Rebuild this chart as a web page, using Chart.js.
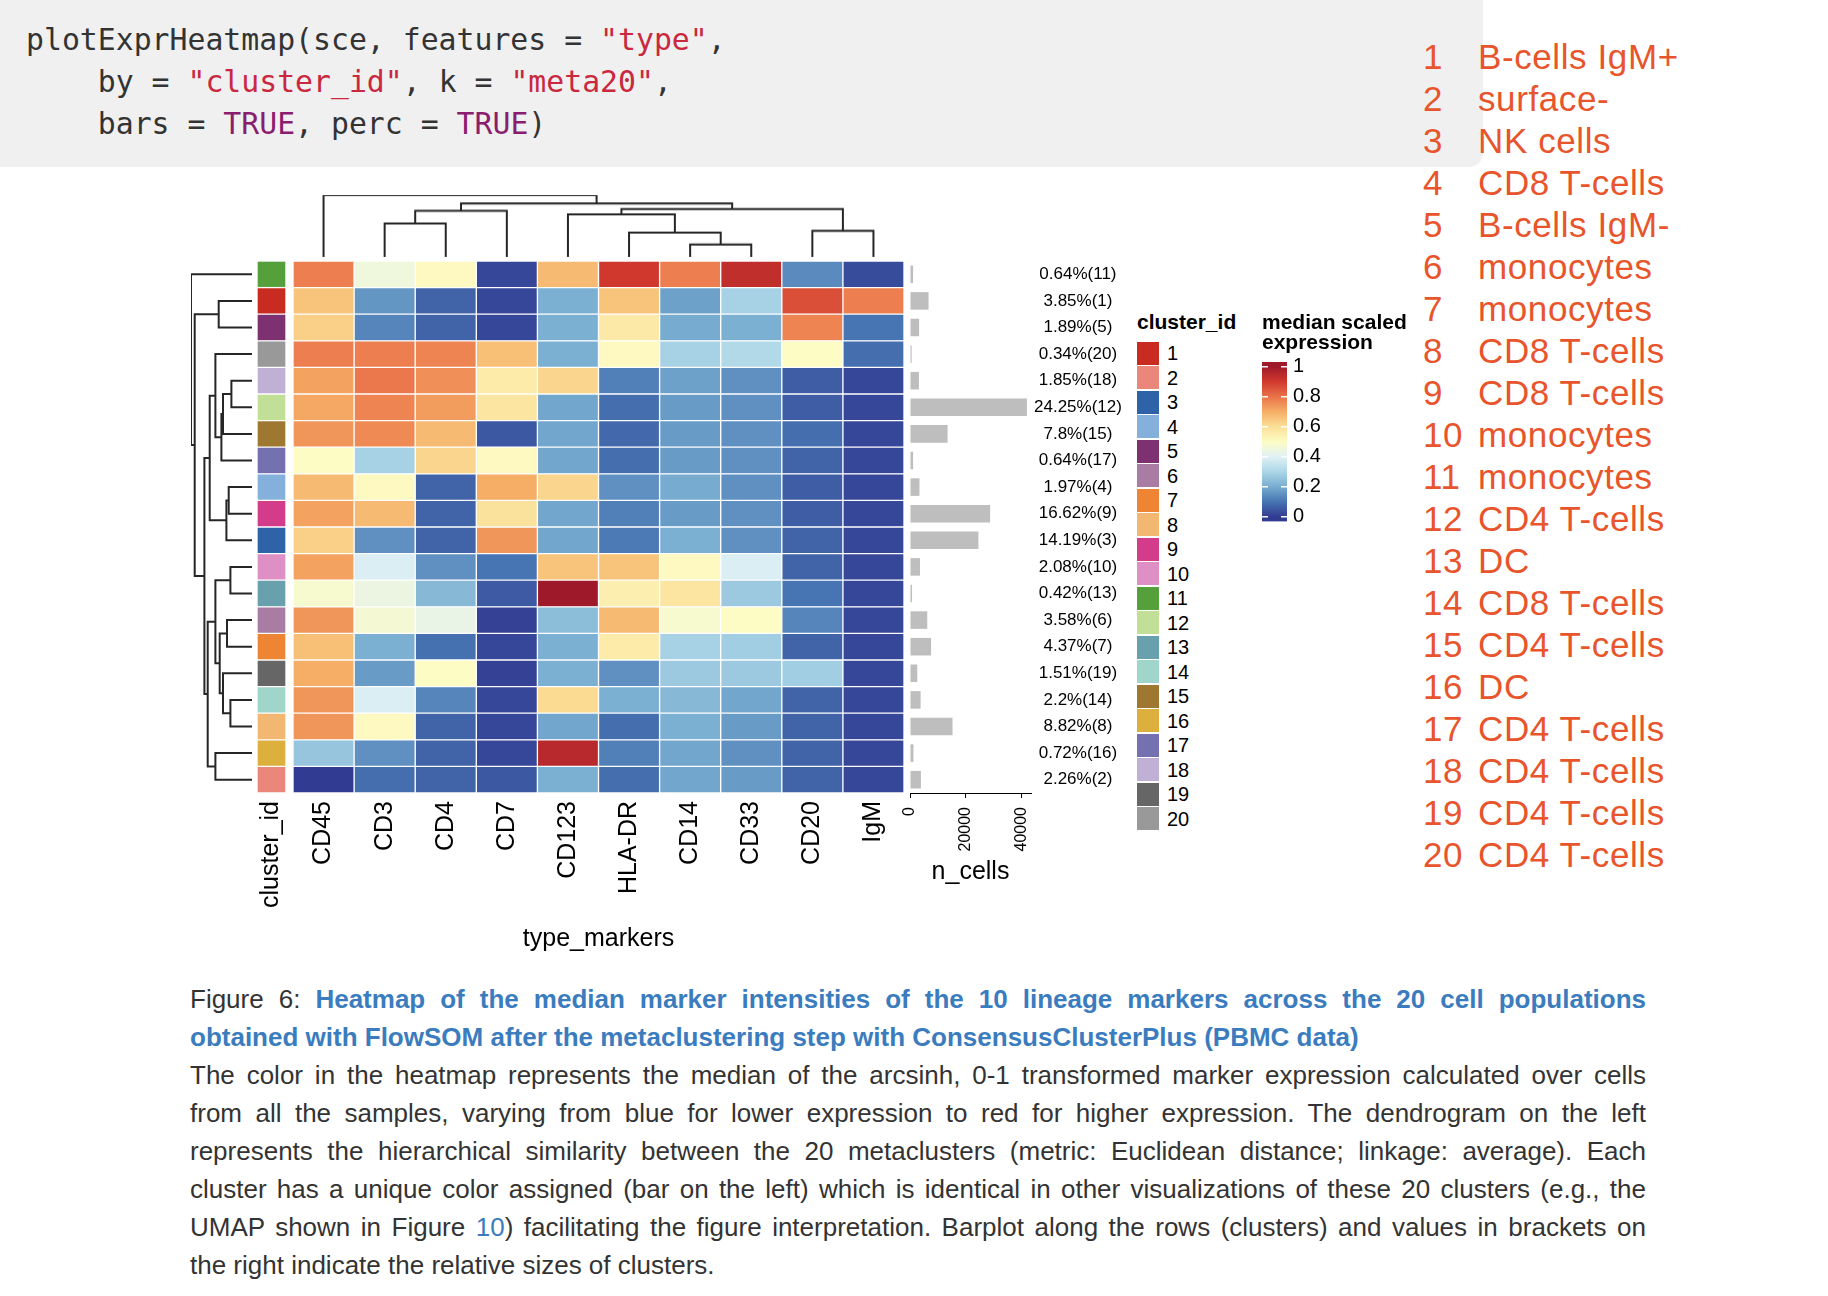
<!DOCTYPE html>
<html>
<head>
<meta charset="utf-8">
<script src="https://cdn.jsdelivr.net/npm/chart.js@4.4.1/dist/chart.umd.min.js"></script>
<style>
  html, body { margin: 0; padding: 0; background: #fff; }
  #page { position: relative; width: 1828px; height: 1296px; overflow: hidden; font-family: 'Liberation Sans', Arial, sans-serif; color: #000; }
  .abs { position: absolute; }
  canvas { position: absolute; }
  #code { left: 0; top: 0; width: 1483px; height: 167px; background: #f0f0f0; border-bottom-right-radius: 14px; }
  #code pre { position: absolute; left: 26px; top: 19px; margin: 0; font: 29.8px/42px 'DejaVu Sans Mono', monospace; color: #333; }
  #code .s { color: #c9283e; }
  #code .k { color: #8a1d6d; }
  .types { font-size: 35px; line-height: 42px; color: #e8552c; letter-spacing: 0.6px; white-space: nowrap; }
  .leg-title { font-weight: bold; font-size: 21px; line-height: 20px; white-space: nowrap; }
  .leg-sw { width: 22px; height: 23px; }
  .leg-lab { font-size: 20px; line-height: 24px; }
  #caption { left: 190px; top: 980px; width: 1456px; font-size: 26px; line-height: 38px; color: #333; }
  #caption div { white-space: nowrap; height: 38px; }
  #caption .j { text-align: justify; text-align-last: justify; }
  #caption .t { color: #3b7cbf; font-weight: bold; }
  #caption .lnk { color: #3b7cbf; }
</style>
</head>
<body>
<div id="page">
  <div id="code" class="abs"><pre>plotExprHeatmap(sce, features = <span class="s">"type"</span>,
    by = <span class="s">"cluster_id"</span>, k = <span class="s">"meta20"</span>,
    bars = <span class="k">TRUE</span>, perc = <span class="k">TRUE</span>)</pre></div>

  <div id="caption" class="abs">
    <div class="j">Figure 6: <span class="t">Heatmap of the median marker intensities of the 10 lineage markers across the 20 cell populations</span></div>
    <div><span class="t">obtained with FlowSOM after the metaclustering step with ConsensusClusterPlus (PBMC data)</span></div>
    <div class="j">The color in the heatmap represents the median of the arcsinh, 0-1 transformed marker expression calculated over cells</div>
    <div class="j">from all the samples, varying from blue for lower expression to red for higher expression. The dendrogram on the left</div>
    <div class="j">represents the hierarchical similarity between the 20 metaclusters (metric: Euclidean distance; linkage: average). Each</div>
    <div class="j">cluster has a unique color assigned (bar on the left) which is identical in other visualizations of these 20 clusters (e.g., the</div>
    <div class="j">UMAP shown in Figure <span class="lnk">10</span>) facilitating the figure interpretation. Barplot along the rows (clusters) and values in brackets on</div>
    <div>the right indicate the relative sizes of clusters.</div>
  </div>
</div>

<script>
// markers (columns) and clusters (rows, top to bottom as in the heatmap)
const markers = ['CD45', 'CD3', 'CD4', 'CD7', 'CD123', 'HLA-DR', 'CD14', 'CD33', 'CD20', 'IgM'];
const rowClusters = [11, 1, 5, 20, 18, 12, 15, 17, 4, 9, 3, 10, 13, 6, 7, 19, 14, 8, 16, 2];

// cluster colours, cluster id 1..20
const clusterColors = ['#c92b20', '#eb877a', '#2f63a8', '#86b0dc', '#7e3170', '#a97ca3', '#ee8534', '#f2b770', '#d33c8b', '#de8fc4',
                       '#56a03c', '#c2df98', '#68a0ae', '#a0d5c9', '#9e7730', '#ddb03e', '#7571b0', '#c0b0d5', '#666666', '#999999'];

// median scaled expression, one row per heatmap row (same order as rowClusters)
const medianExpr = [
    [0.78, 0.45, 0.51, 0.02, 0.675, 0.90, 0.78, 0.93, 0.14, 0.03],
    [0.655, 0.16, 0.07, 0.02, 0.21, 0.655, 0.18, 0.29, 0.86, 0.78],
    [0.63, 0.13, 0.07, 0.02, 0.21, 0.565, 0.20, 0.21, 0.77, 0.10],
    [0.78, 0.78, 0.77, 0.665, 0.21, 0.51, 0.29, 0.31, 0.50, 0.09],
    [0.72, 0.79, 0.75, 0.56, 0.62, 0.12, 0.18, 0.15, 0.06, 0.02],
    [0.71, 0.77, 0.73, 0.58, 0.19, 0.09, 0.17, 0.15, 0.06, 0.02],
    [0.74, 0.76, 0.675, 0.05, 0.19, 0.08, 0.17, 0.15, 0.09, 0.02],
    [0.50, 0.29, 0.62, 0.51, 0.19, 0.09, 0.17, 0.15, 0.07, 0.02],
    [0.675, 0.51, 0.07, 0.70, 0.62, 0.15, 0.20, 0.15, 0.06, 0.02],
    [0.72, 0.675, 0.07, 0.59, 0.19, 0.12, 0.17, 0.15, 0.06, 0.02],
    [0.63, 0.15, 0.07, 0.74, 0.19, 0.11, 0.21, 0.15, 0.07, 0.02],
    [0.72, 0.39, 0.15, 0.10, 0.655, 0.655, 0.51, 0.39, 0.07, 0.02],
    [0.48, 0.44, 0.23, 0.055, 1.00, 0.55, 0.58, 0.27, 0.10, 0.02],
    [0.74, 0.47, 0.43, 0.01, 0.24, 0.675, 0.48, 0.50, 0.13, 0.02],
    [0.665, 0.21, 0.095, 0.02, 0.21, 0.56, 0.29, 0.28, 0.07, 0.02],
    [0.70, 0.17, 0.50, 0.01, 0.21, 0.15, 0.27, 0.27, 0.28, 0.02],
    [0.74, 0.39, 0.13, 0.02, 0.61, 0.21, 0.23, 0.19, 0.07, 0.02],
    [0.74, 0.51, 0.07, 0.02, 0.19, 0.09, 0.21, 0.17, 0.07, 0.02],
    [0.26, 0.15, 0.07, 0.02, 0.95, 0.12, 0.19, 0.15, 0.07, 0.02],
    [0.00, 0.09, 0.07, 0.05, 0.21, 0.09, 0.19, 0.17, 0.07, 0.02]
];

// cluster sizes, same row order
const nCells = [1100, 6650, 3270, 590, 3200, 41900, 13480, 1110, 3400, 28720,
                24520, 3590, 730, 6190, 7550, 2610, 3800, 15240, 1240, 3910];
const pctCells = [0.64, 3.85, 1.89, 0.34, 1.85, 24.25, 7.8, 0.64, 1.97, 16.62,
                  14.19, 2.08, 0.42, 3.58, 4.37, 1.51, 2.2, 8.82, 0.72, 2.26];
const nCellsTicks = [0, 20000, 40000];

// annotation on the right, cluster id 1..20
const cellTypes = ['B-cells IgM+', 'surface-', 'NK cells', 'CD8 T-cells', 'B-cells IgM-', 'monocytes', 'monocytes', 'CD8 T-cells',
                   'CD8 T-cells', 'monocytes', 'monocytes', 'CD4 T-cells', 'DC', 'CD8 T-cells', 'CD4 T-cells', 'DC',
                   'CD4 T-cells', 'CD4 T-cells', 'CD4 T-cells', 'CD4 T-cells'];

// dendrograms, hclust style: negative = leaf (1-based position), positive = earlier merge
const rowMerges = [[-5, -6], [-12, -13], [-17, -18], [-9, -10], [-14, -15], [4, -11], [1, -7], [-16, 3], [7, -8], [5, 8],
                   [-2, -3], [-4, 9], [2, 10], [-19, -20], [12, 6], [13, 14], [15, 16], [11, 17], [-1, 18]];
const rowHeights = [20.6, 21.6, 21.6, 23.3, 25, 25.6, 29, 29, 30.6, 32.3, 33.3, 36.6, 36.6, 36.6, 42.3, 44.3, 47.6, 57.3, 61];
const colMerges = [[-7, -8], [-6, 1], [-9, -10], [-2, -3], [-5, 2], [4, -4], [5, 3], [6, 7], [-1, 8]];
const colHeights = [12.4, 24.4, 26, 33.4, 42.4, 46, 47.7, 53.4, 61.7];

// colour scale
const exprPalette = ['#323b92', '#4774b2', '#77acd0', '#acd6e7', '#e0f1f5', '#fdfcc4', '#fbdf97', '#f6ae66', '#ea7249', '#d0382d', '#9e1a2a'];
const exprTicks = [0, 0.2, 0.4, 0.6, 0.8, 1];

Chart.defaults.font.family = "'Liberation Sans', Arial, sans-serif";
Chart.defaults.color = '#000';

const page = document.getElementById('page');

function hexRgb(h) {
    return [1, 3, 5].map(i => parseInt(h.slice(i, i + 2), 16));
}

function exprColor(v) {
    const t = Math.min(Math.max(v, 0), 1) * (exprPalette.length - 1);
    const i = Math.min(Math.floor(t), exprPalette.length - 2);
    const f = t - i;
    const a = hexRgb(exprPalette[i]), b = hexRgb(exprPalette[i + 1]);
    return 'rgb(' + a.map((c, k) => Math.round(c + (b[k] - c) * f)).join(',') + ')';
}

function makeCanvas(left, top, w, h) {
    const c = document.createElement('canvas');
    c.width = w;
    c.height = h;
    c.style.left = left + 'px';
    c.style.top = top + 'px';
    c.style.width = w + 'px';
    c.style.height = h + 'px';
    page.appendChild(c);
    return c;
}

function dendroSegments(merges, heights) {
    const pos = [], segs = [];
    const at = k => k < 0 ? { p: -k - 0.5, h: 0 } : pos[k - 1];
    merges.forEach((m, i) => {
        const a = at(m[0]), b = at(m[1]), h = heights[i];
        pos.push({ p: (a.p + b.p) / 2, h: h });
        segs.push([[a.p, a.h], [a.p, h], [b.p, h], [b.p, b.h]]);
    });
    return segs;
}

function noPad(s) {
    s.paddingLeft = 0; s.paddingRight = 0; s.paddingTop = 0; s.paddingBottom = 0;
}

const baseOpts = {
    responsive: false,
    animation: false,
    events: [],
    plugins: { legend: { display: false }, tooltip: { enabled: false } }
};

// layout of the heatmap body
const HM_TOP = 261, HM_H = 532, HM_LEFT = 293, HM_W = 611;
const rowLabels = rowClusters.map(String);

// heatmap
new Chart(makeCanvas(HM_LEFT, HM_TOP, HM_W, HM_H + 161), {
    type: 'bar',
    data: {
        labels: rowLabels,
        datasets: markers.map((m, j) => ({
            label: m,
            data: rowClusters.map(() => 1),
            backgroundColor: medianExpr.map(r => exprColor(r[j])),
            borderColor: '#ffffff',
            borderWidth: 1,
            borderSkipped: false,
            barPercentage: 1,
            categoryPercentage: 1
        }))
    },
    options: {
        ...baseOpts,
        indexAxis: 'y',
        scales: {
            x: {
                type: 'linear', min: 0, max: markers.length, stacked: true,
                grid: { display: false, drawTicks: false },
                border: { display: false },
                afterBuildTicks: s => { s.ticks = markers.map((m, i) => ({ value: i + 0.5 })); },
                afterFit: s => { noPad(s); s.height = 161; },
                ticks: {
                    callback: (v, i) => markers[i],
                    minRotation: 90, maxRotation: 90, autoSkip: false,
                    padding: 8, font: { size: 25 }
                },
                title: { display: true, text: 'type_markers', font: { size: 25 }, padding: 0 }
            },
            y: { type: 'category', stacked: true, display: false }
        }
    }
});

// cluster colour annotation
new Chart(makeCanvas(237, HM_TOP, 69, HM_H + 161), {
    type: 'bar',
    data: {
        labels: rowLabels,
        datasets: [{
            label: 'cluster_id',
            data: rowClusters.map(() => 1),
            backgroundColor: rowClusters.map(c => clusterColors[c - 1]),
            borderColor: '#ffffff',
            borderWidth: 1,
            borderSkipped: false,
            barPercentage: 1,
            categoryPercentage: 1
        }]
    },
    options: {
        ...baseOpts,
        indexAxis: 'y',
        layout: { padding: { left: 20, right: 20 } },
        scales: {
            x: {
                type: 'linear', min: 0, max: 1,
                grid: { display: false, drawTicks: false },
                border: { display: false },
                afterBuildTicks: s => { s.ticks = [{ value: 0.5 }]; },
                afterFit: s => { noPad(s); s.height = 161; },
                ticks: { callback: () => 'cluster_id', minRotation: 90, maxRotation: 90, padding: 8, font: { size: 25 } }
            },
            y: { type: 'category', display: false }
        }
    }
});

// row dendrogram
new Chart(makeCanvas(186, HM_TOP - 5, 71, HM_H + 10), {
    type: 'scatter',
    data: {
        datasets: dendroSegments(rowMerges, rowHeights).map(seg => ({
            data: seg.map(p => ({ x: p[1], y: p[0] })),
            showLine: true, borderColor: '#262626', borderWidth: 2, pointRadius: 0
        }))
    },
    options: {
        ...baseOpts,
        layout: { padding: 5 },
        scales: {
            x: { type: 'linear', min: 0, max: rowHeights[rowHeights.length - 1], reverse: true, display: false },
            y: { type: 'linear', min: 0, max: rowClusters.length, reverse: true, display: false }
        }
    }
});

// column dendrogram
new Chart(makeCanvas(HM_LEFT - 5, 190, HM_W + 10, 71.7), {
    type: 'scatter',
    data: {
        datasets: dendroSegments(colMerges, colHeights).map(seg => ({
            data: seg.map(p => ({ x: p[0], y: p[1] })),
            showLine: true, borderColor: '#262626', borderWidth: 2, pointRadius: 0
        }))
    },
    options: {
        ...baseOpts,
        layout: { padding: 5 },
        scales: {
            x: { type: 'linear', min: 0, max: markers.length, display: false },
            y: { type: 'linear', min: 0, max: colHeights[colHeights.length - 1], display: false }
        }
    }
});

// n_cells barplot + percentage labels
new Chart(makeCanvas(900, HM_TOP, 231, HM_H + 94), {
    type: 'bar',
    data: {
        labels: rowLabels,
        datasets: [{
            label: 'n_cells',
            data: nCells,
            backgroundColor: '#bebebe',
            barPercentage: 0.66,
            categoryPercentage: 1
        }]
    },
    options: {
        ...baseOpts,
        indexAxis: 'y',
        layout: { padding: { left: 10 } },
        scales: {
            x: {
                type: 'linear', min: 0, max: 43370,
                grid: { drawOnChartArea: false, tickLength: 5, color: '#000' },
                border: { color: '#000', width: 1 },
                afterBuildTicks: s => { s.ticks = nCellsTicks.map(v => ({ value: v })); },
                afterFit: s => { noPad(s); s.height = 94; },
                ticks: { callback: v => String(v), minRotation: 90, maxRotation: 90, padding: 9, font: { size: 16 } },
                title: { display: true, text: 'n_cells', font: { size: 25 }, padding: 0 }
            },
            y: { type: 'category', display: false },
            pct: {
                type: 'category', position: 'right', offset: true,
                labels: rowClusters.map((c, i) => pctCells[i] + '%(' + c + ')'),
                grid: { display: false, drawTicks: false },
                border: { display: false },
                afterFit: s => { noPad(s); s.width = 100; },
                ticks: { autoSkip: false, crossAlign: 'center', padding: 3, font: { size: 17 } }
            }
        }
    }
});

// colour bar legend
new Chart(makeCanvas(1262, 350, 80, 184), {
    type: 'bar',
    data: {
        labels: ['median'],
        datasets: [{
            data: [[-0.03, 1.03]],
            barPercentage: 1,
            categoryPercentage: 1,
            borderWidth: 0,
            backgroundColor: c => {
                const chart = c.chart;
                if (!chart.chartArea) return null;
                const y = chart.scales.y;
                const g = chart.ctx.createLinearGradient(0, y.getPixelForValue(0), 0, y.getPixelForValue(1));
                exprPalette.forEach((col, i) => g.addColorStop(i / (exprPalette.length - 1), col));
                return g;
            }
        }]
    },
    options: {
        ...baseOpts,
        layout: { padding: { top: 12, bottom: 12.6 } },
        scales: {
            x: { type: 'category', display: false },
            y: {
                type: 'linear', position: 'right', min: -0.03, max: 1.03,
                grid: { color: 'rgba(255,255,255,0.95)', lineWidth: 1.5, drawTicks: false, z: 1 },
                border: { display: false, dash: [6, 13] },
                afterBuildTicks: s => { s.ticks = exprTicks.map(v => ({ value: v })); },
                afterFit: s => { noPad(s); s.width = 55; },
                ticks: { callback: v => String(+v.toFixed(1)), padding: 6, font: { size: 20 } }
            }
        }
    }
});

// legends and annotation text
function addDiv(cls, left, top, html, style) {
    const d = document.createElement('div');
    d.className = 'abs ' + cls;
    d.style.left = left + 'px';
    d.style.top = top + 'px';
    if (style) Object.assign(d.style, style);
    d.innerHTML = html;
    page.appendChild(d);
    return d;
}

addDiv('leg-title', 1137, 312, 'cluster_id');
clusterColors.forEach((col, i) => {
    const cy = 353 + 24.5 * i;
    addDiv('leg-sw', 1137, cy - 11.5, '', { background: col });
    addDiv('leg-lab', 1167, cy - 12, String(i + 1));
});
addDiv('leg-title', 1262, 312, 'median scaled<br>expression');

cellTypes.forEach((t, i) => {
    addDiv('types', 1423, 36 + 42 * i, String(i + 1));
    addDiv('types', 1478, 36 + 42 * i, t);
});
</script>
</body>
</html>
